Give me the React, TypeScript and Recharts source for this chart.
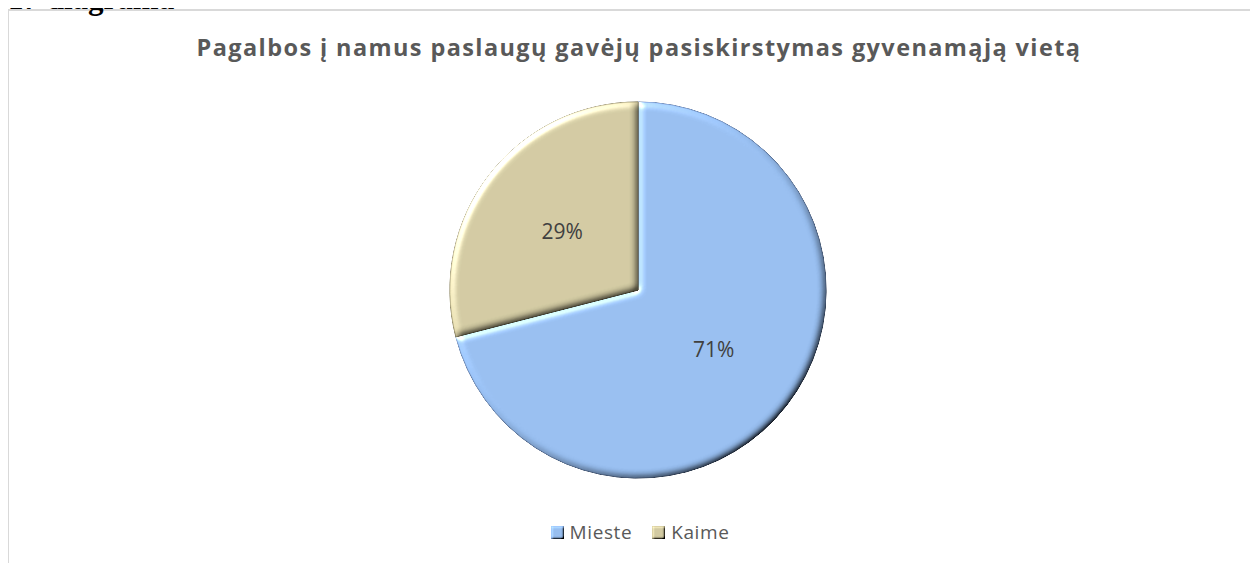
import React from 'react';
import { PieChart, Pie, Cell, Legend } from 'recharts';

const heading = '17 diagrama';
const chartTitle = 'Pagalbos į namus paslaugų gavėjų pasiskirstymas gyvenamąją vietą';
const categories = ['Mieste', 'Kaime'];
const shares = [71, 29];

const FILLS = ['#97BEF0', '#D2CAA2'];
const STROKES = ['#7C9CCB', '#A69E78'];

const data = categories.map((name, i) => ({ name, value: shares[i] }));

const RAD = Math.PI / 180;

const renderLabel = (props: any) => {
  const { cx, cy, midAngle, outerRadius, value } = props;
  const r = outerRadius * 0.51;
  const x = cx + r * Math.cos(-midAngle * RAD);
  const y = cy + r * Math.sin(-midAngle * RAD);
  return (
    <text
      x={x}
      y={y}
      fill="#404040"
      fontSize={21}
      fontFamily="'Open Sans', sans-serif"
      textAnchor="middle"
      dominantBaseline="central"
    >
      {`${value}%`}
    </text>
  );
};

const LegendContent = () => (
  <div
    style={{
      display: 'flex',
      justifyContent: 'center',
      alignItems: 'center',
      paddingLeft: 4,
      fontFamily: "'Open Sans', sans-serif",
      fontSize: 19,
      lineHeight: '20px',
      height: 20,
      color: '#595959',
      letterSpacing: 0.6,
    }}
  >
    {categories.map((c, i) => (
      <div key={c} style={{ display: 'flex', alignItems: 'center', marginRight: i === 0 ? 20 : 0 }}>
        <svg width={13} height={13} style={{ marginRight: 6, display: 'block' }}>
          <defs>
            <filter id={`lbevel${i}`} x="-20%" y="-20%" width="140%" height="140%">
              <feGaussianBlur in="SourceAlpha" stdDeviation="1.2" result="blur" />
              <feDiffuseLighting in="blur" surfaceScale="2" diffuseConstant="1" lightingColor="#ffffff" result="diff">
                <feDistantLight azimuth="225" elevation="35" />
              </feDiffuseLighting>
              <feComposite in="SourceGraphic" in2="diff" operator="arithmetic" k1="1.74" k2="0" k3="0" k4="0" />
            </filter>
          </defs>
          <rect x={0} y={0} width={13} height={13} fill={FILLS[i]} stroke={STROKES[i]} strokeWidth={1} filter={`url(#lbevel${i})`} />
        </svg>
        <span>{c}</span>
      </div>
    ))}
  </div>
);

export default function App() {
  return (
    <div style={{ position: 'relative', width: 1250, height: 555 }}>
      <div
        style={{
          position: 'absolute',
          left: -1,
          top: 1,
          width: 1262,
          height: 560,
          borderLeft: '2px solid #d9d9d9',
          borderTop: '2px solid #d9d9d9',
          boxSizing: 'border-box',
          background: '#ffffff',
        }}
      >
        <PieChart width={1258} height={558} margin={{ top: 0, right: 0, bottom: 0, left: 0 }}>
          <defs>
            <filter id="bevel" x="-5%" y="-5%" width="110%" height="110%">
              <feGaussianBlur in="SourceAlpha" stdDeviation="3.5" result="blur" />
              <feDiffuseLighting in="blur" surfaceScale="3" diffuseConstant="1" lightingColor="#ffffff" result="diff">
                <feDistantLight azimuth="225" elevation="35" />
              </feDiffuseLighting>
              <feComposite in="SourceGraphic" in2="diff" operator="arithmetic" k1="1.74" k2="0" k3="0" k4="0" result="shaded" />
              <feSpecularLighting in="blur" surfaceScale="3" specularConstant="0.8" specularExponent="35" lightingColor="#ffffff" result="spec">
                <feDistantLight azimuth="225" elevation="35" />
              </feSpecularLighting>
              <feComposite in="spec" in2="SourceAlpha" operator="in" result="specIn" />
              <feComposite in="shaded" in2="specIn" operator="arithmetic" k1="0" k2="1" k3="1" k4="0" />
            </filter>
          </defs>
          <Pie
            data={data}
            dataKey="value"
            nameKey="name"
            cx={629}
            cy={279}
            outerRadius={188}
            startAngle={90}
            endAngle={-270}
            label={renderLabel}
            labelLine={false}
            isAnimationActive={false}
          >
            {data.map((d, i) => (
              <Cell key={d.name} fill={FILLS[i]} stroke={STROKES[i]} strokeWidth={0.8} filter="url(#bevel)" />
            ))}
          </Pie>
          <Legend
            content={<LegendContent />}
            wrapperStyle={{ position: 'absolute', top: 511, left: 0, width: 1258, height: 20 }}
          />
        </PieChart>
      </div>
      <div
        style={{
          position: 'absolute',
          left: 0,
          top: -25,
          fontFamily: "'Liberation Serif', serif",
          fontWeight: 'bold',
          fontSize: 31,
          lineHeight: '31px',
          whiteSpace: 'nowrap',
          color: '#000',
        }}
      >
        {heading}
      </div>
      <div
        style={{
          position: 'absolute',
          left: 0,
          top: 28,
          width: 1262,
          textAlign: 'center',
          fontFamily: "'Open Sans', sans-serif",
          fontWeight: 'bold',
          fontSize: 23.5,
          letterSpacing: 1.4,
          lineHeight: '22px',
          color: '#595959',
          whiteSpace: 'nowrap',
        }}
      >
        {chartTitle}
      </div>
    </div>
  );
}
